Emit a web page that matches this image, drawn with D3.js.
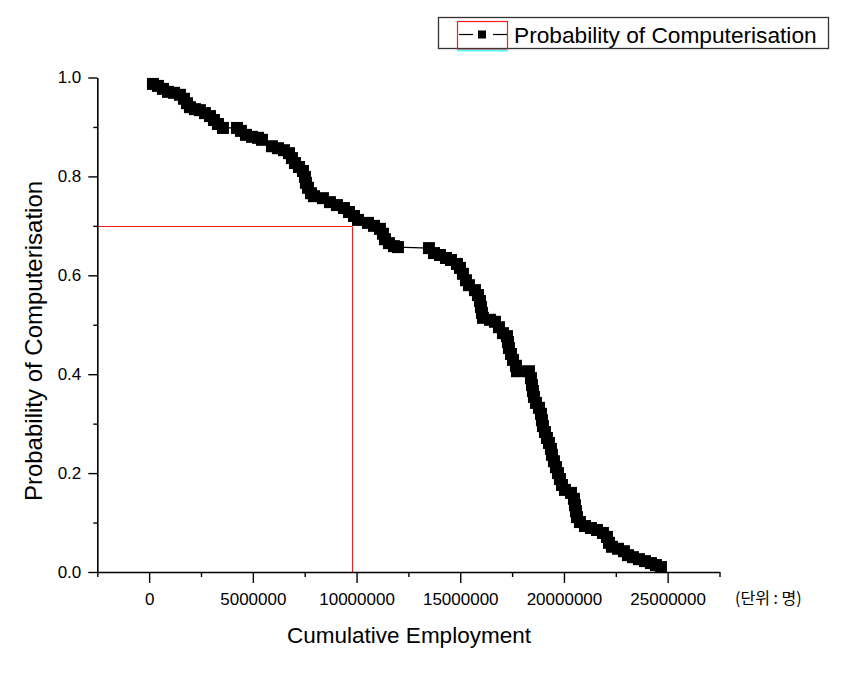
<!DOCTYPE html>
<html><head><meta charset="utf-8">
<script src="https://cdn.jsdelivr.net/npm/d3@7"></script>
<style>body{margin:0;background:#fff}svg{display:block}</style>
</head><body><svg id="c" width="843" height="681"></svg>
<script>
// Cumulative employment (x) and probability of computerisation (y)
const employment = [183000,424000,665000,906000,1196000,1485000,1678000,1823000,1967000,2208000,
2449000,2690000,2932000,3124000,3317000,3558000,4233000,4426000,4667000,4957000,
5246000,5439000,5921000,6210000,6500000,6741000,6885000,7030000,7223000,7416000,
7512000,7560000,7657000,7801000,7946000,8380000,8717000,9055000,9392000,9634000,
9875000,10068000,10550000,10839000,11128000,11273000,11369000,11562000,11803000,11996000,
13491000,13732000,14021000,14311000,14552000,14841000,14986000,15130000,15275000,15419000,
15709000,15853000,15950000,15998000,16046000,16095000,16432000,16673000,16866000,17059000,
17252000,17300000,17348000,17445000,17541000,17686000,17734000,18312000,18409000,18457000,
18505000,18554000,18650000,18795000,18891000,18939000,18987000,19084000,19180000,19277000,
19373000,19421000,19518000,19614000,19711000,19807000,19904000,20048000,20338000,20482000,
20530000,20579000,20627000,20771000,21013000,21302000,21591000,21880000,22073000,22170000,
22314000,22604000,22893000,23086000,23327000,23616000,23905000,24195000,24436000,24677000];
const probability = [0.987,0.983,0.977,0.971,0.969,0.965,0.957,0.948,0.940,0.936,
0.934,0.928,0.922,0.914,0.906,0.898,0.898,0.892,0.884,0.880,
0.878,0.874,0.861,0.857,0.853,0.847,0.837,0.827,0.819,0.811,
0.799,0.787,0.777,0.766,0.760,0.756,0.748,0.742,0.736,0.728,
0.720,0.712,0.706,0.700,0.694,0.684,0.673,0.665,0.659,0.657,
0.655,0.645,0.641,0.635,0.631,0.623,0.615,0.603,0.590,0.580,
0.570,0.560,0.548,0.536,0.524,0.514,0.510,0.506,0.495,0.483,
0.477,0.465,0.453,0.441,0.429,0.417,0.406,0.406,0.392,0.378,
0.366,0.354,0.342,0.332,0.320,0.307,0.295,0.283,0.271,0.261,
0.249,0.237,0.224,0.212,0.200,0.188,0.176,0.166,0.160,0.148,
0.135,0.123,0.111,0.101,0.093,0.089,0.085,0.079,0.071,0.059,
0.051,0.047,0.042,0.034,0.030,0.026,0.022,0.018,0.014,0.010];
const xTicks = [0,5000000,10000000,15000000,20000000,25000000];
const xMinorTicks = [-2500000,2500000,7500000,12500000,17500000,22500000,27500000];
const yTicks = [0,0.2,0.4,0.6,0.8,1.0];
const yMinorTicks = [0.1,0.3,0.5,0.7,0.9];
const refEmployment = 9780000;
const refProbability = 0.7;
const seriesName = "Probability of Computerisation";
const xTitle = "Cumulative Employment";
const yTitle = "Probability of Computerisation";
const unitLabel = "(단위 : 명)";

const FONT = "'Liberation Sans', Arial, sans-serif";
const RED = "#ff1a1a";
const svg = d3.select("#c");
const x = d3.scaleLinear().domain([-2500000, 27500000]).range([97.3, 719.5]);
const y = d3.scaleLinear().domain([0, 1]).range([572, 77.5]);
const data = employment.map((e, i) => ({e, p: probability[i]}));

// reference lines
const ry = Math.round(y(refProbability)) + 0.5;
const rx = Math.round(x(refEmployment)) + 0.5;
svg.append("line").attr("x1", x.range()[0]).attr("x2", rx)
  .attr("y1", ry).attr("y2", ry)
  .attr("stroke", RED).attr("stroke-width", 1);
svg.append("line").attr("x1", rx).attr("x2", rx)
  .attr("y1", ry).attr("y2", y(0))
  .attr("stroke", RED).attr("stroke-width", 1);

// series line
svg.append("path").datum(data)
  .attr("d", d3.line().x(d => x(d.e)).y(d => y(d.p)))
  .attr("fill", "none").attr("stroke", "#000").attr("stroke-width", 1.3);
const ms = 12;
svg.append("g").selectAll("rect").data(data).join("rect")
  .attr("x", d => x(d.e) - ms / 2).attr("y", d => y(d.p) - ms / 2)
  .attr("width", ms).attr("height", ms).attr("fill", "#000");

// x axis
const xAxisG = svg.append("g").attr("transform", `translate(0,${y(0)})`);
xAxisG.call(d3.axisBottom(x).tickValues(xTicks).tickFormat(d3.format("d")).tickSize(11).tickSizeOuter(0).tickPadding(10));
xAxisG.append("g").call(d3.axisBottom(x).tickValues(xMinorTicks).tickFormat("").tickSize(5).tickSizeOuter(0))
  .select(".domain").remove();
// y axis
const yAxisG = svg.append("g").attr("transform", `translate(${x.range()[0]},0)`);
yAxisG.call(d3.axisLeft(y).tickValues(yTicks).tickFormat(d3.format(".1f")).tickSize(9).tickSizeOuter(0).tickPadding(7));
yAxisG.append("g").call(d3.axisLeft(y).tickValues(yMinorTicks).tickFormat("").tickSize(4).tickSizeOuter(0))
  .select(".domain").remove();
svg.selectAll(".domain").attr("stroke", "#000").attr("stroke-width", 1.6);
svg.selectAll(".tick line").attr("stroke", "#000").attr("stroke-width", 1.4);
svg.selectAll(".tick text").attr("font-family", FONT).attr("font-size", 17).attr("fill", "#000");

// unit label
svg.append("text").attr("x", 735).attr("y", 604).text(unitLabel)
  .attr("font-family", "'Noto Sans CJK KR', sans-serif").attr("font-size", 16).attr("fill", "#000");

// titles
svg.append("text").attr("x", 409).attr("y", 643).attr("text-anchor", "middle")
  .attr("font-family", FONT).attr("font-size", 22.5).attr("fill", "#000").text(xTitle);
svg.append("text").attr("transform", "translate(42,341) rotate(-90)").attr("text-anchor", "middle")
  .attr("font-family", FONT).attr("font-size", 24).attr("fill", "#000").text(yTitle);

// legend
const lg = svg.append("g");
lg.append("rect").attr("x", 438.5).attr("y", 17.5).attr("width", 390).attr("height", 31)
  .attr("fill", "#fff").attr("stroke", "#333").attr("stroke-width", 1.3);
lg.append("rect").attr("x", 457.5).attr("y", 21.5).attr("width", 50).attr("height", 28)
  .attr("fill", "none").attr("stroke", RED).attr("stroke-width", 1.2);
lg.append("line").attr("x1", 457).attr("x2", 508).attr("y1", 50.5).attr("y2", 50.5)
  .attr("stroke", "#5ff").attr("stroke-width", 2);
lg.append("line").attr("x1", 459).attr("x2", 473).attr("y1", 34.5).attr("y2", 34.5)
  .attr("stroke", "#000").attr("stroke-width", 1.2);
lg.append("line").attr("x1", 493).attr("x2", 507).attr("y1", 34.5).attr("y2", 34.5)
  .attr("stroke", "#000").attr("stroke-width", 1.2);
lg.append("rect").attr("x", 478).attr("y", 30.5).attr("width", 8).attr("height", 8).attr("fill", "#000");
lg.append("text").attr("x", 514).attr("y", 43).attr("font-family", FONT).attr("font-size", 22.7)
  .attr("fill", "#000").text(seriesName);
</script></body></html>
